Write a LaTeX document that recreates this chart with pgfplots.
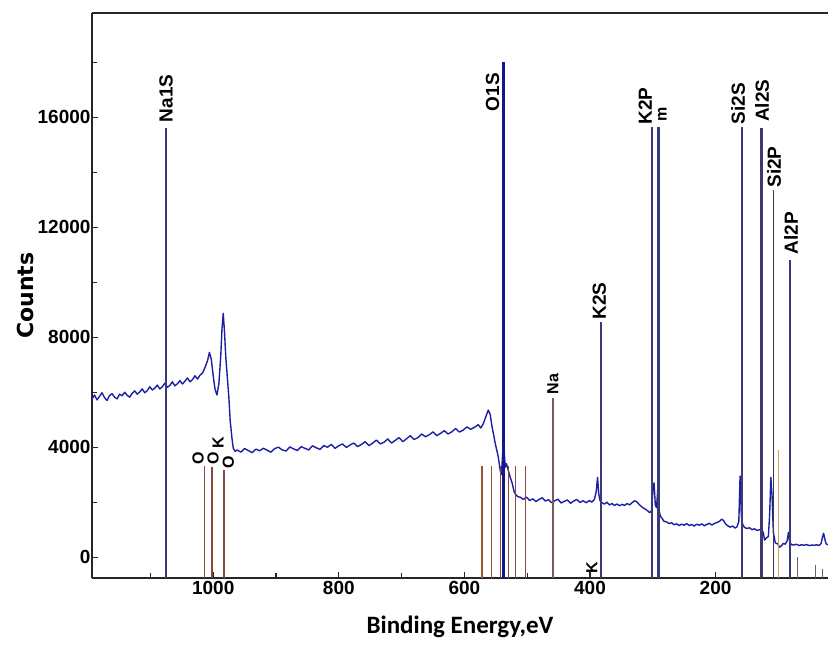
\documentclass[border=0pt]{standalone}
\usepackage{fontspec}
\setmainfont{Liberation Sans}
\newfontfamily\djv{DejaVu Sans}
\newfontfamily\carl{Carlito}
\usepackage{pgfplots}
\usepackage{pgfplotstable}
\pgfplotsset{compat=1.18}
\definecolor{spec}{RGB}{30,30,165}
\definecolor{navy}{RGB}{58,58,122}
\definecolor{oline}{RGB}{22,22,140}
\definecolor{brn}{RGB}{135,72,62}
\definecolor{tan}{RGB}{205,160,100}
\definecolor{dgr}{RGB}{55,55,72}
\definecolor{gbr}{RGB}{115,95,95}
\newcommand\lab{\fontsize{19}{19}\selectfont\bfseries}
\newcommand\slab{\fontsize{16}{16}\selectfont\bfseries}
\newcommand\vl[3]{\addplot[#1,forget plot] coordinates {(#2,-760) (#2,#3)};}

\pgfplotstableread{
x y
1193 5750
1189 5900
1185 5720
1181 5850
1177 5980
1173 5800
1169 5700
1165 5880
1161 5950
1157 5820
1153 5760
1149 5930
1145 5870
1141 6000
1137 5890
1133 5820
1129 5960
1125 6050
1121 5930
1117 6010
1113 6120
1109 5980
1105 6060
1101 6200
1097 6080
1093 6150
1089 6260
1085 6120
1081 6200
1077 6330
1073 6180
1069 6250
1065 6380
1061 6230
1057 6310
1053 6420
1049 6300
1045 6400
1041 6520
1037 6380
1033 6460
1029 6600
1025 6480
1021 6620
1017 6700
1013 6900
1009 7150
1006 7450
1003 7200
1000 6600
997 6100
994 5900
991 6300
988 7300
986 8300
984 8870
982 8200
980 7300
978 6700
975 5800
973 4980
970 4300
968 3960
965 3850
962 3900
956 3820
950 3950
944 3880
938 3800
932 3930
926 3870
920 3960
914 3890
908 3820
902 3950
896 4000
890 3900
884 3860
878 4010
872 3940
866 3880
860 4020
854 3960
848 3900
842 4050
836 3980
830 3920
824 4060
818 4000
812 4100
806 3960
800 4050
794 4120
788 3990
782 4080
776 4150
770 4020
764 4100
758 4200
752 4060
746 4150
740 4260
734 4120
728 4180
722 4300
716 4150
710 4250
704 4350
698 4200
692 4310
686 4420
680 4280
674 4350
668 4480
662 4380
656 4450
650 4560
644 4420
638 4500
632 4600
626 4480
620 4560
614 4680
608 4550
602 4620
596 4740
590 4650
584 4720
578 4820
574 4700
570 4850
566 5100
562 5350
559 5200
556 4750
553 4400
551 4150
548 3850
546 3640
543 3160
541 3000
539 3800
538 18000
537 4000
535 3270
533 3400
530 3150
527 2900
524 2700
521 2400
519 2300
515 2200
511 2180
506 2100
501 2180
496 2060
491 2120
486 2020
481 2100
476 2160
471 2040
466 2090
461 1980
456 2050
451 2110
446 1970
441 2030
436 2080
431 1960
426 2040
421 2100
416 1990
411 2050
406 1980
401 2060
397 2000
393 2100
390 2400
388 2900
386 2300
384 2050
381 1980
377 1930
373 2000
369 1900
365 1950
361 1880
357 1930
353 1870
349 1920
345 1880
341 1950
337 1900
333 1980
329 2050
325 2000
321 1900
317 1820
313 1760
309 1700
305 1620
302 1680
300 2400
298 2700
296 1900
294 1800
292 2500
290 1700
288 1500
285 1400
282 1300
278 1280
274 1220
270 1250
266 1180
262 1210
258 1150
254 1200
250 1160
246 1220
242 1150
238 1190
234 1130
230 1200
226 1160
222 1210
218 1140
214 1190
210 1230
206 1170
202 1220
198 1260
194 1300
190 1380
187 1320
184 1200
181 1150
177 1090
173 1130
169 1060
166 1100
163 1300
161 2950
159 1500
157 1200
154 1080
150 1040
146 1070
142 1000
138 1030
134 970
130 1000
127 980
124 900
122 620
119 700
116 750
114 1500
112 2900
110 2200
108 900
105 520
101 480
98 360
95 420
92 500
89 470
86 600
84 900
82 550
79 450
75 440
71 470
67 420
63 450
59 430
55 460
51 420
47 440
43 430
39 450
35 420
32 500
30 700
28 870
26 650
24 480
21 450
}\spectrum

\begin{document}
\begin{tikzpicture}
\begin{axis}[name=ax, scale only axis, width=736pt, height=565pt,
  x dir=reverse, xmin=21, xmax=1193, ymin=-760, ymax=19800,
  axis x line=box, axis y line=left, xtick pos=left,
  axis line style={-, line width=1.3pt, black!85},
  tick align=inside,
  every tick/.style={line width=1.2pt, black!85},
  major tick length=6pt, minor tick length=5pt,
  xtick={200,400,600,800,1000}, minor xtick={100,300,500,700,900,1100},
  ytick={0,4000,8000,12000,16000}, minor ytick={2000,6000,10000,14000,18000},
  scaled y ticks=false, scaled x ticks=false,
  /pgf/number format/assume math mode=true,
  /pgf/number format/set thousands separator={},
  ticklabel style={font=\fontsize{19}{19}\selectfont\bfseries},
  yticklabel style={xshift=2pt},
  xlabel={Binding Energy,eV},
  xlabel style={font=\carl\fontsize{25}{25}\selectfont\bfseries, at={(axis description cs:0.5,0)}, anchor=north, yshift=-38pt, inner sep=0pt},
  ylabel={Counts},
  ylabel style={font=\djv\fontsize{22}{22}\selectfont\bfseries, at={(axis description cs:-0.091,0.5)}, anchor=center},
  clip=false,
]
\addplot[spec, line width=1.4pt, line join=round] table[x=x,y=y] {\spectrum};

% brown reference lines
\vl{brn, line width=1.3pt}{1014}{3300}
\vl{brn, line width=1.3pt}{1002}{3270}
\vl{brn, line width=1.3pt}{983}{3160}
\vl{brn!80!orange, line width=1.2pt}{572}{3300}
\vl{brn!80!orange, line width=1.2pt}{557}{3300}
\vl{brn, line width=1.2pt}{543}{3300}
\vl{brn, line width=1.2pt}{530}{3300}
\vl{brn, line width=1.2pt}{518}{3300}
\vl{brn, line width=1.2pt}{503}{3300}
\vl{gbr, line width=1.4pt}{459}{5780}
\vl{tan, line width=1.6pt}{100}{3890}
\vl{gbr, line width=1.2pt}{70}{0}
\vl{gbr, line width=1.2pt}{41}{-300}
\vl{gbr, line width=1.2pt}{30}{-450}
% main labelled lines
\vl{navy, line width=2.4pt}{1075}{15600}
\vl{oline, line width=2.4pt}{538}{18000}
\vl{navy, line width=1.6pt}{382}{8550}
\vl{navy, line width=2.2pt}{301}{15640}
\vl{navy, line width=2.2pt}{291}{15640}
\vl{navy, line width=2.4pt}{158}{15640}
\vl{navy, line width=2.2pt}{127}{15600}
\vl{dgr, line width=1.4pt}{108}{13350}
\vl{navy, line width=2.2pt}{81}{10800}

% labels
\node[rotate=90, anchor=west, font=\lab, inner sep=1pt] at (axis cs:1075,15780) {Na1S};
\node[rotate=90, anchor=west, font=\lab, inner sep=1pt] at (axis cs:555,16180) {O1S};
\node[rotate=90, anchor=west, font=\slab, inner sep=1pt] at (axis cs:459,5890) {Na};
\node[rotate=90, anchor=west, font=\lab, inner sep=1pt] at (axis cs:385,8600) {K2S};
\node[rotate=90, anchor=west, font=\lab, inner sep=1pt] at (axis cs:312,15700) {K2P};
\node[rotate=90, anchor=west, font=\slab, inner sep=1pt] at (axis cs:285,15800) {m};
\node[rotate=90, anchor=west, font=\lab, inner sep=1pt] at (axis cs:164,15700) {Si2S};
\node[rotate=90, anchor=west, font=\lab, inner sep=1pt] at (axis cs:126,15800) {Al2S};
\node[rotate=90, anchor=west, font=\lab, inner sep=1pt] at (axis cs:107,13400) {Si2P};
\node[rotate=90, anchor=west, font=\lab, inner sep=1pt] at (axis cs:80,10980) {Al2P};
\node[rotate=90, anchor=center, font=\slab, inner sep=0pt] at (axis cs:1024,3600) {O};
\node[rotate=90, anchor=center, font=\slab, inner sep=0pt] at (axis cs:1000,3600) {O};
\node[rotate=90, anchor=center, font=\slab, inner sep=0pt] at (axis cs:992,4150) {K};
\node[rotate=90, anchor=center, font=\slab, inner sep=0pt] at (axis cs:976,3450) {O};
\node[rotate=90, anchor=center, font=\slab, inner sep=0pt] at (axis cs:397,-400) {K};
\end{axis}
\pgfresetboundingbox
\path[use as bounding box] ([xshift=-92pt,yshift=-67pt]ax.south west) rectangle ([yshift=13pt]ax.north east);
\end{tikzpicture}
\end{document}
